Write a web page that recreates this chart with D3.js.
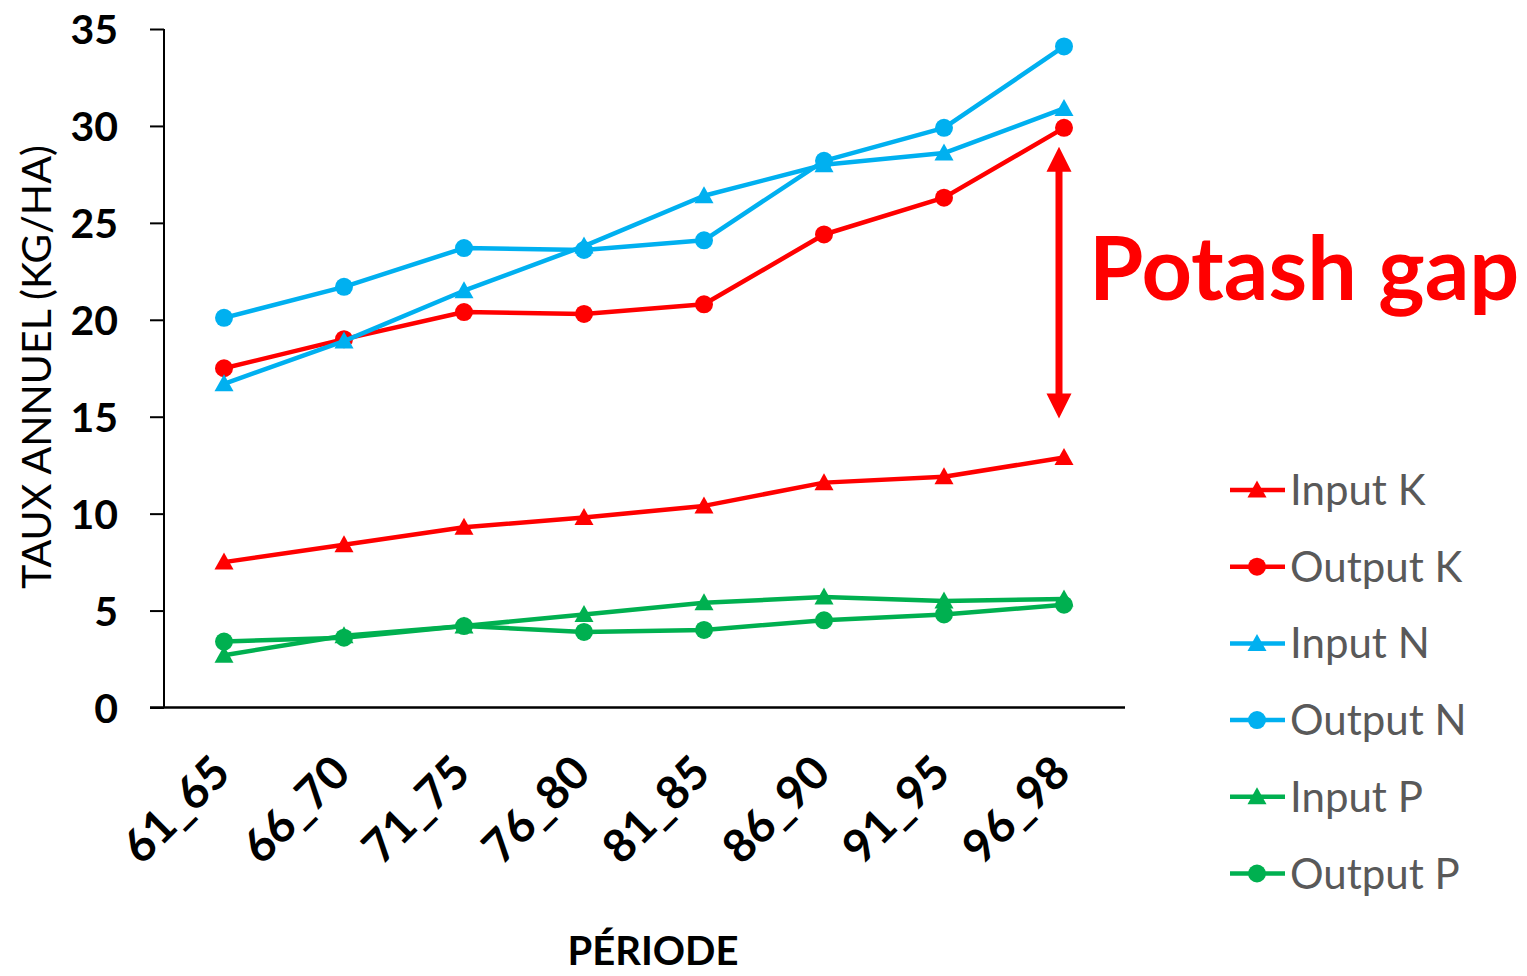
<!DOCTYPE html>
<html>
<head>
<meta charset="utf-8">
<script src="https://cdn.jsdelivr.net/npm/d3@7"></script>
<style>
  html, body { margin: 0; padding: 0; background: #fff; }
  svg { display: block; font-family: Lato, "Open Sans", sans-serif; }
</style>
</head>
<body>
<svg id="chart" width="1527" height="976"></svg>
<script>
// Periods and annual rates (kg/ha)
const periods = ["61_65", "66_70", "71_75", "76_80", "81_85", "86_90", "91_95", "96_98"];
const inputK  = [7.5, 8.4, 9.3, 9.8, 10.4, 11.6, 11.9, 12.9];
const outputK = [17.5, 19.0, 20.4, 20.3, 20.8, 24.4, 26.3, 29.9];
const inputN  = [16.7, 18.9, 21.5, 23.8, 26.4, 28.0, 28.6, 30.9];
const outputN = [20.1, 21.7, 23.7, 23.6, 24.1, 28.2, 29.9, 34.1];
const inputP  = [2.7, 3.7, 4.2, 4.8, 5.4, 5.7, 5.5, 5.6];
const outputP = [3.4, 3.6, 4.2, 3.9, 4.0, 4.5, 4.8, 5.3];
const yTicks  = [0, 5, 10, 15, 20, 25, 30, 35];

const series = [
  { name: "Input K",  values: inputK,  color: "#FF0000", marker: "triangle" },
  { name: "Output K", values: outputK, color: "#FF0000", marker: "circle" },
  { name: "Input N",  values: inputN,  color: "#00B0F0", marker: "triangle" },
  { name: "Output N", values: outputN, color: "#00B0F0", marker: "circle" },
  { name: "Input P",  values: inputP,  color: "#00B050", marker: "triangle" },
  { name: "Output P", values: outputP, color: "#00B050", marker: "circle" }
];

const svg = d3.select("#chart");

const x = d3.scalePoint().domain(periods).range([164, 1124]).padding(0.5);
const y = d3.scaleLinear().domain([0, 35]).range([707.5, 29]);

// Y axis
const yAxis = svg.append("g")
  .attr("transform", "translate(164,0)")
  .call(d3.axisLeft(y).tickValues(yTicks).tickSize(14).tickPadding(32).tickFormat(d3.format("d")));
yAxis.select(".domain").attr("stroke", "#000").attr("stroke-width", 2).attr("d", "M0,29V707.5");
yAxis.selectAll(".tick line").attr("stroke", "#000").attr("stroke-width", 2);
yAxis.selectAll(".tick text")
  .attr("font-size", 41).attr("font-weight", 700).attr("fill", "#000")
  .attr("font-family", "Lato, sans-serif").attr("dy", "0.36em");

// X axis
const xAxis = svg.append("g")
  .attr("transform", "translate(0,707.5)")
  .call(d3.axisBottom(x).tickSize(0));
xAxis.select(".domain").attr("stroke", "#000").attr("stroke-width", 2.5).attr("d", "M150,0H1125");
xAxis.selectAll(".tick text")
  .attr("font-size", 46).attr("font-weight", 700).attr("fill", "#000")
  .attr("font-family", "Lato, sans-serif")
  .attr("text-anchor", "end")
  .attr("x", 0).attr("y", 0).attr("dy", 0)
  .attr("transform", "translate(8,68) rotate(-45)");

// Axis titles
svg.append("text")
  .attr("x", 653).attr("y", 965)
  .attr("text-anchor", "middle")
  .attr("font-size", 40).attr("font-weight", 700).attr("fill", "#000")
  .text("PÉRIODE");

svg.append("text")
  .attr("transform", "translate(51,367) rotate(-90)")
  .attr("text-anchor", "middle")
  .attr("font-size", 41).attr("fill", "#000")
  .text("TAUX ANNUEL (KG/HA)");

// Marker shapes
const tri = "M0,-9.5L9.5,7.5L-9.5,7.5Z";
function drawMarker(sel, type, color) {
  if (type === "circle") {
    sel.append("circle").attr("r", 9).attr("fill", color);
  } else {
    sel.append("path").attr("d", tri).attr("fill", color);
  }
}

// Series lines and markers
const line = d3.line().x((d, i) => x(periods[i])).y(d => y(d));
series.forEach(s => {
  const g = svg.append("g");
  g.append("path")
    .attr("d", line(s.values))
    .attr("fill", "none")
    .attr("stroke", s.color)
    .attr("stroke-width", 4.5)
    .attr("stroke-linejoin", "round");
  s.values.forEach((v, i) => {
    const m = g.append("g").attr("transform", `translate(${x(periods[i])},${y(v)})`);
    drawMarker(m, s.marker, s.color);
  });
});

// Gap annotation between output K and input K in the last period
const last = periods.length - 1;
const ax = x(periods[last]) - 5;
const topTip = y(outputK[last]) + 19;
const botTip = y(inputK[last]) - 39;
const headH = 25, headW = 12.5, shaft = 3.5;
svg.append("path")
  .attr("d", `M${ax},${topTip}L${ax + headW},${topTip + headH}L${ax + shaft},${topTip + headH}` +
             `L${ax + shaft},${botTip - headH}L${ax + headW},${botTip - headH}L${ax},${botTip}` +
             `L${ax - headW},${botTip - headH}L${ax - shaft},${botTip - headH}` +
             `L${ax - shaft},${topTip + headH}L${ax - headW},${topTip + headH}Z`)
  .attr("fill", "#FF0000");

svg.append("text")
  .attr("x", 1089).attr("y", 300)
  .attr("font-size", 88).attr("font-weight", 700).attr("fill", "#FF0000")
  .text("Potash gap");

// Legend
const legend = svg.append("g");
series.forEach((s, i) => {
  const cy = 490 + i * 76.7;
  const row = legend.append("g").attr("transform", `translate(0,${cy})`);
  row.append("line").attr("x1", 1230).attr("x2", 1285).attr("y1", 0).attr("y2", 0)
    .attr("stroke", s.color).attr("stroke-width", 4.5);
  const m = row.append("g").attr("transform", "translate(1257,0)");
  drawMarker(m, s.marker, s.color);
  row.append("text").attr("x", 1290).attr("y", 15)
    .attr("font-size", 42).attr("fill", "#595959")
    .text(s.name);
});
</script>
</body>
</html>
